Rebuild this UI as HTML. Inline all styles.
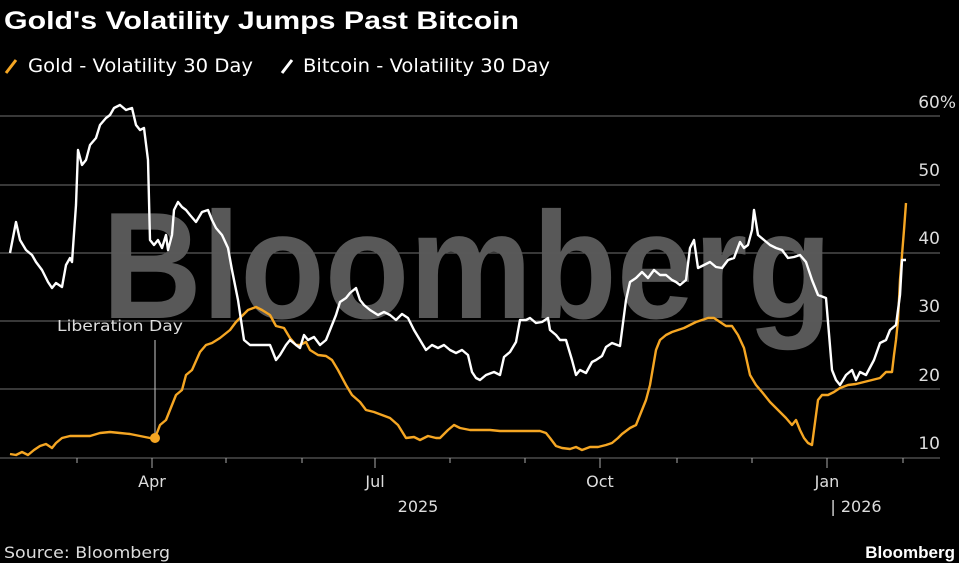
<!DOCTYPE html>
<html><head><meta charset="utf-8"><style>
html,body{margin:0;padding:0;background:#000;}
svg{display:block;font-family:"Liberation Sans","DejaVu Sans",sans-serif;}
</style></head><body>
<svg width="959" height="563" viewBox="0 0 959 563" xmlns="http://www.w3.org/2000/svg">
<rect width="959" height="563" fill="#000"/>
<text x="4" y="29" fill="#fff" font-size="25" font-weight="bold" textLength="515" lengthAdjust="spacingAndGlyphs">Gold's Volatility Jumps Past Bitcoin</text>
<line x1="6" y1="73" x2="16" y2="60" stroke="#f5a623" stroke-width="3"/>
<text x="28" y="72" fill="#fff" font-size="19" font-family="DejaVu Sans" textLength="225" lengthAdjust="spacingAndGlyphs">Gold - Volatility 30 Day</text>
<line x1="282" y1="73" x2="292" y2="60" stroke="#fff" stroke-width="3"/>
<text x="303" y="72" fill="#fff" font-size="19" font-family="DejaVu Sans" textLength="247" lengthAdjust="spacingAndGlyphs">Bitcoin - Volatility 30 Day</text>
<text x="102" y="318" fill="#585858" font-size="152" font-weight="bold" textLength="730" lengthAdjust="spacingAndGlyphs">Bloomberg</text>
<g stroke="#5a5a5a" stroke-width="1.2">
<line x1="0" y1="116" x2="940" y2="116"/><line x1="0" y1="185" x2="940" y2="185"/>
<line x1="0" y1="253" x2="940" y2="253"/><line x1="0" y1="321" x2="940" y2="321"/>
<line x1="0" y1="389" x2="940" y2="389"/><line x1="0" y1="458" x2="940" y2="458"/>
</g>
<g fill="#ddd" font-size="17" font-family="DejaVu Sans" text-anchor="end">
<text x="956" y="108">60%</text><text x="940" y="176">50</text><text x="940" y="244">40</text>
<text x="940" y="312">30</text><text x="940" y="381">20</text><text x="940" y="449">10</text>
</g>
<g stroke="#aaa" stroke-width="1">
<line x1="77" y1="458" x2="77" y2="463"/><line x1="152" y1="458" x2="152" y2="468"/>
<line x1="226" y1="458" x2="226" y2="463"/><line x1="302" y1="458" x2="302" y2="463"/>
<line x1="375" y1="458" x2="375" y2="468"/><line x1="450" y1="458" x2="450" y2="463"/>
<line x1="525" y1="458" x2="525" y2="463"/><line x1="600" y1="458" x2="600" y2="468"/>
<line x1="677" y1="458" x2="677" y2="463"/><line x1="752" y1="458" x2="752" y2="463"/>
<line x1="827" y1="458" x2="827" y2="468"/><line x1="903" y1="458" x2="903" y2="463"/>
</g>
<g fill="#ddd" font-size="16" font-family="DejaVu Sans" text-anchor="middle">
<text x="152" y="487">Apr</text><text x="375" y="487">Jul</text><text x="600" y="487">Oct</text><text x="827" y="487">Jan</text>
<text x="418" y="512">2025</text><text x="856" y="512">| 2026</text>
</g>
<line x1="155" y1="340" x2="155" y2="438" stroke="#ccc" stroke-width="1"/>
<text x="57" y="331" fill="#ddd" font-size="15" font-family="DejaVu Sans" textLength="126" lengthAdjust="spacingAndGlyphs">Liberation Day</text>
<polyline fill="none" stroke="#f5a623" stroke-width="2.4" stroke-linejoin="round" points="10,454 16,455 22,452 28,455 34,450 40,446 46,444 52,448 56,443 62,438 70,436 80,436 90,436 100,433 110,432 120,433 130,434 140,436 150,438 155,438 160,425 166,420 172,405 176,395 182,390 186,375 192,370 200,352 206,345 212,343 220,338 230,330 236,322 242,316 248,310 256,307 262,310 270,315 276,326 284,328 290,338 296,345 300,345 306,342 310,350 318,355 326,356 332,360 338,370 346,385 352,395 360,402 366,410 374,412 382,415 390,418 398,425 406,438 414,437 420,440 428,436 436,438 440,438 448,430 454,425 460,428 470,430 480,430 490,430 500,431 510,431 520,431 530,431 540,431 546,433 550,438 556,446 562,448 570,449 576,447 582,450 590,447 598,447 606,445 612,443 618,438 622,434 630,428 636,425 642,410 646,400 650,385 656,350 660,340 666,335 672,332 678,330 684,328 690,325 696,322 702,320 708,318 714,318 720,322 726,326 732,326 738,335 744,348 750,375 756,385 762,392 770,402 778,410 786,418 792,425 796,420 800,430 804,438 808,443 812,445 818,400 822,395 828,395 834,392 840,388 848,385 856,384 864,382 872,380 880,378 886,372 892,372 894,355 896,340 898,320 900,280 904,230 906,203"/>
<circle cx="155" cy="438" r="5" fill="#f5a623"/>
<polyline fill="none" stroke="#fff" stroke-width="2.4" stroke-linejoin="round" points="10,253 16,222 20,240 26,250 32,255 36,262 42,270 48,282 52,288 56,283 62,287 66,265 70,258 72,262 76,205 78,150 82,165 86,160 90,145 96,138 100,125 106,118 110,115 114,108 120,105 126,110 132,108 136,125 140,130 144,128 148,160 150,240 154,245 158,240 162,248 166,235 168,250 172,235 174,210 178,202 182,207 186,210 190,215 196,222 202,212 208,210 212,220 216,228 222,235 228,248 232,270 238,300 244,340 250,345 256,345 262,345 270,345 276,360 280,355 286,345 290,340 296,345 300,348 304,335 308,340 314,337 320,345 326,340 330,330 336,315 340,302 346,298 350,293 356,288 360,300 364,305 370,310 378,315 384,312 390,315 396,320 402,314 408,318 414,330 420,340 426,350 432,345 438,348 444,345 450,350 456,353 462,350 468,355 472,372 476,378 480,380 486,375 494,372 500,375 504,357 510,352 516,342 520,320 526,320 530,318 536,323 542,322 548,318 550,330 556,335 560,340 566,340 572,360 576,375 580,370 586,373 592,362 596,360 602,356 606,347 612,343 620,346 626,300 630,282 636,278 642,272 648,278 654,270 660,275 666,275 672,280 676,282 680,285 686,280 690,248 694,240 698,268 704,265 710,262 716,267 722,268 728,260 734,258 740,242 744,248 748,245 752,230 754,210 758,235 764,240 770,245 776,248 782,250 788,258 794,257 800,255 806,262 812,280 818,295 826,298 832,370 836,380 840,385 846,375 852,370 856,380 860,372 866,375 874,360 880,343 886,340 890,330 896,325 900,295 902,260 906,260"/>
<text x="4" y="558" fill="#ddd" font-size="16" font-family="DejaVu Sans" textLength="166" lengthAdjust="spacingAndGlyphs">Source: Bloomberg</text>
<text x="955" y="558" fill="#fff" font-size="17" font-weight="bold" text-anchor="end">Bloomberg</text>
</svg>
</body></html>
